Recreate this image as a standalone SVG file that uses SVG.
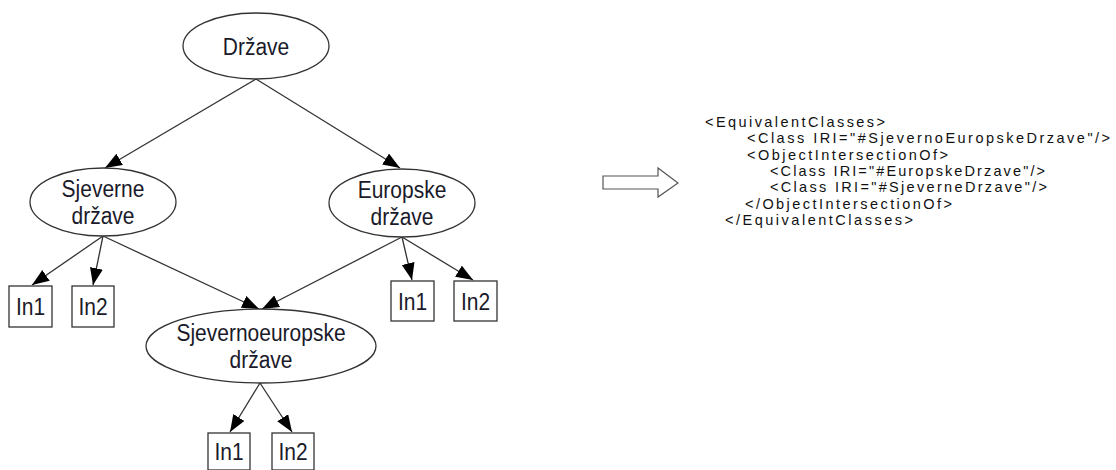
<svg xmlns="http://www.w3.org/2000/svg" width="1116" height="470" viewBox="0 0 1116 470">
<style>
.node ellipse, .node rect { fill: #ffffff; stroke: #333333; stroke-width: 1.3; }
.lbl { font-family: "Liberation Sans", Arial, sans-serif; font-size: 21px; fill: #1a1a2a; text-anchor: middle; }
.edge { stroke: #333333; stroke-width: 1.3; fill: none; marker-end: url(#arr); }
.code { font-family: "Liberation Sans", Arial, sans-serif; font-size: 14.5px; fill: #111111; }
</style>
<defs>
<marker id="arr" markerUnits="userSpaceOnUse" markerWidth="18" markerHeight="14" refX="17" refY="6.5" orient="auto">
<path d="M0,0 L17,6.5 L0,13 z" fill="#000000"/>
</marker>
</defs>
<rect width="1116" height="470" fill="#ffffff"/>
<g id="connectors">
<line class="edge" x1="256" y1="79" x2="105" y2="168"/>
<line class="edge" x1="256" y1="79" x2="400" y2="168"/>
<line class="edge" x1="103" y1="236" x2="32" y2="285"/>
<line class="edge" x1="103" y1="236" x2="93" y2="285"/>
<line class="edge" x1="103" y1="236" x2="259" y2="309"/>
<line class="edge" x1="402" y1="237" x2="262" y2="309"/>
<line class="edge" x1="402" y1="237" x2="412" y2="280"/>
<line class="edge" x1="402" y1="237" x2="473" y2="280"/>
<line class="edge" x1="260" y1="383" x2="230" y2="432"/>
<line class="edge" x1="260" y1="383" x2="292" y2="432"/>
</g>
<g id="drzave" class="node">
<ellipse cx="256" cy="46" rx="73" ry="33"/>
<text class="lbl" transform="translate(256,55) scale(1,1.15)">Države</text>
</g>
<g id="sjeverne" class="node">
<ellipse cx="103" cy="202" rx="73" ry="34"/>
<text class="lbl" transform="translate(103,197) scale(1,1.15)">Sjeverne</text>
<text class="lbl" transform="translate(103,224) scale(1,1.15)">države</text>
</g>
<g id="europske" class="node">
<ellipse cx="402" cy="203" rx="73" ry="34"/>
<text class="lbl" transform="translate(402,198) scale(1,1.15)">Europske</text>
<text class="lbl" transform="translate(402,225) scale(1,1.15)">države</text>
</g>
<g id="sjevernoeuropske" class="node">
<ellipse cx="261" cy="346" rx="115" ry="37"/>
<text class="lbl" transform="translate(261,341) scale(1,1.15)">Sjevernoeuropske</text>
<text class="lbl" transform="translate(261,368) scale(1,1.15)">države</text>
</g>
<g id="sj_in1" class="node">
<rect x="9" y="286" width="43" height="41"/>
<text class="lbl" transform="translate(30.5,315) scale(1,1.15)">In1</text>
</g>
<g id="sj_in2" class="node">
<rect x="72" y="286" width="42" height="41"/>
<text class="lbl" transform="translate(93,315) scale(1,1.15)">In2</text>
</g>
<g id="eu_in1" class="node">
<rect x="391" y="281" width="43" height="40"/>
<text class="lbl" transform="translate(412.5,309.5) scale(1,1.15)">In1</text>
</g>
<g id="eu_in2" class="node">
<rect x="454" y="281" width="43" height="40"/>
<text class="lbl" transform="translate(475.5,309.5) scale(1,1.15)">In2</text>
</g>
<g id="se_in1" class="node">
<rect x="208" y="433" width="42" height="37"/>
<text class="lbl" transform="translate(229,460) scale(1,1.15)">In1</text>
</g>
<g id="se_in2" class="node">
<rect x="272" y="433" width="42" height="37"/>
<text class="lbl" transform="translate(293,460) scale(1,1.15)">In2</text>
</g>
<g id="implies">
<polygon points="603,176 658,176 658,168 678,183 658,197 658,189 603,189" fill="#ffffff" stroke="#555555" stroke-width="1.2"/>
</g>
<g id="owl">
<text class="code" x="705" y="127" textLength="180" lengthAdjust="spacing">&lt;EquivalentClasses&gt;</text>
<text class="code" x="747" y="143" textLength="363" lengthAdjust="spacing">&lt;Class IRI="#SjevernoEuropskeDrzave"/&gt;</text>
<text class="code" x="747" y="159.5" textLength="201" lengthAdjust="spacing">&lt;ObjectIntersectionOf&gt;</text>
<text class="code" x="770" y="176" textLength="275" lengthAdjust="spacing">&lt;Class IRI="#EuropskeDrzave"/&gt;</text>
<text class="code" x="770" y="192" textLength="277" lengthAdjust="spacing">&lt;Class IRI="#SjeverneDrzave"/&gt;</text>
<text class="code" x="745" y="208.5" textLength="207" lengthAdjust="spacing">&lt;/ObjectIntersectionOf&gt;</text>
<text class="code" x="725" y="225" textLength="188" lengthAdjust="spacing">&lt;/EquivalentClasses&gt;</text>
</g>
</svg>
